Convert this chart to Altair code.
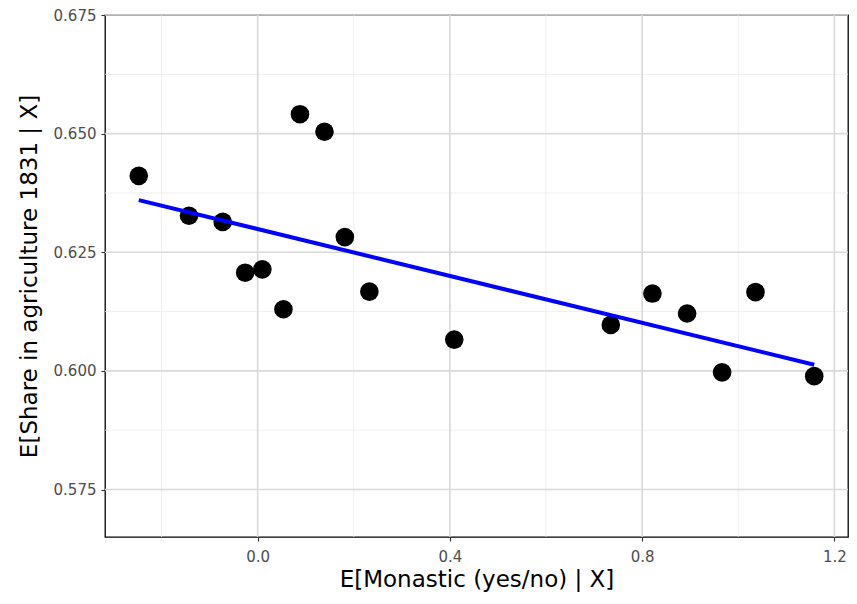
import altair as alt
import pandas as pd

# Data (binned scatter)
monastic = [-0.2474, -0.1429, -0.0728, -0.0260, 0.0097, 0.0536, 0.0880, 0.1390,
            0.1814, 0.2324, 0.4091, 0.7348, 0.8214, 0.8936, 0.9664, 1.0359, 1.1581]
agri = [0.6411, 0.6327, 0.6314, 0.6207, 0.6214, 0.6130, 0.6541, 0.6504,
        0.6282, 0.6167, 0.6066, 0.6097, 0.6163, 0.6121, 0.5997, 0.6166, 0.5989]

# Fitted line (endpoints)
fit_x = [-0.2474, 1.1581]
fit_y = [0.6360, 0.6013]

x_major = [0.0, 0.4, 0.8, 1.2]
x_minor = [-0.2, 0.2, 0.6, 1.0]
y_major = [0.575, 0.600, 0.625, 0.650, 0.675]
y_minor = [0.5875, 0.6125, 0.6375, 0.6625]

x_domain = [-0.3177, 1.2284]
y_domain = [0.565, 0.675]

df = pd.DataFrame({"x": monastic, "y": agri})
fit_df = pd.DataFrame({"x": fit_x, "y": fit_y})

xs = alt.Scale(domain=x_domain, nice=False, zero=False)
ys = alt.Scale(domain=y_domain, nice=False, zero=False)

FONT = "DejaVu Sans"

x_axis = alt.Axis(values=x_major, format=".1f", grid=False, domain=False,
                  tickColor="#333333", tickSize=4, tickWidth=1.1,
                  labelColor="#4d4d4d", labelFontSize=15, labelFont=FONT, labelPadding=8,
                  title="E[Monastic (yes/no) | X]", titleFont=FONT, titleFontSize=23,
                  titleFontWeight="normal", titleColor="black", titlePadding=4)
y_axis = alt.Axis(values=y_major, format=".3f", grid=False, domain=False,
                  tickColor="#333333", tickSize=4, tickWidth=1.1,
                  labelColor="#4d4d4d", labelFontSize=15, labelFont=FONT, labelPadding=5,
                  title="E[Share in agriculture 1831 | X]", titleFont=FONT, titleFontSize=23,
                  titleFontWeight="normal", titleColor="black", titlePadding=12)

xminor_df = pd.DataFrame({"v": x_minor})
yminor_df = pd.DataFrame({"v": y_minor})
xmajor_df = pd.DataFrame({"v": x_major})
ymajor_df = pd.DataFrame({"v": y_major})

gx_minor = alt.Chart(xminor_df).mark_rule(color="#ebebeb", strokeWidth=0.8).encode(
    x=alt.X("v:Q", scale=xs, axis=x_axis))
gy_minor = alt.Chart(yminor_df).mark_rule(color="#ebebeb", strokeWidth=0.8).encode(
    y=alt.Y("v:Q", scale=ys, axis=y_axis))
gx_major = alt.Chart(xmajor_df).mark_rule(color="#d9d9d9", strokeWidth=1.6).encode(
    x=alt.X("v:Q", scale=xs, axis=x_axis))
gy_major = alt.Chart(ymajor_df).mark_rule(color="#d9d9d9", strokeWidth=1.6).encode(
    y=alt.Y("v:Q", scale=ys, axis=y_axis))

points = alt.Chart(df).mark_circle(size=346, color="black", opacity=1).encode(
    x=alt.X("x:Q", scale=xs, axis=x_axis),
    y=alt.Y("y:Q", scale=ys, axis=y_axis),
)

fit = alt.Chart(fit_df).mark_line(color="#0000ff", strokeWidth=4).encode(
    x=alt.X("x:Q", scale=xs, axis=x_axis),
    y=alt.Y("y:Q", scale=ys, axis=y_axis),
)

chart = alt.layer(gx_minor, gy_minor, gx_major, gy_major, points, fit).properties(
    width=743, height=522,
    autosize=alt.AutoSizeParams(type="none"),
    padding={"left": 97, "top": 7, "right": 1, "bottom": 59},
    background="white",
).configure_view(stroke="black", strokeWidth=1.3)

chart.save("out.html", embed_options={"renderer": "svg", "actions": False})
